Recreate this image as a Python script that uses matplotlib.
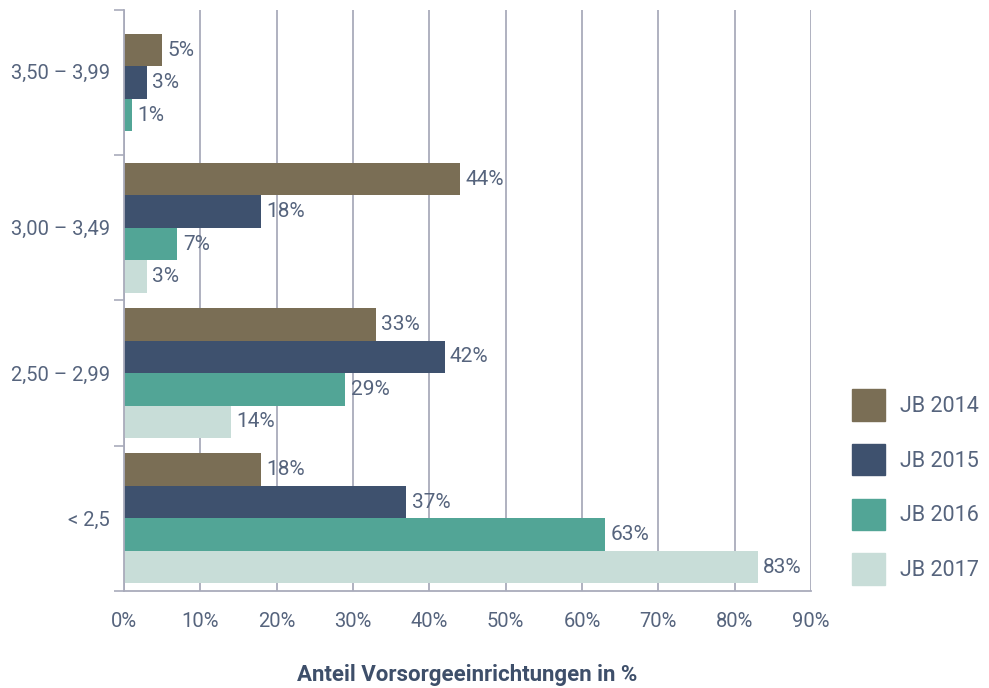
import matplotlib
matplotlib.use("Agg")

import matplotlib.pyplot as plt
import matplotlib.patches as mpatches
import numpy as np

# categories bottom -> top
categories = ["< 2,5", "2,50 – 2,99", "3,00 – 3,49", "3,50 – 3,99"]
series = ["JB 2014", "JB 2015", "JB 2016", "JB 2017"]

jb2014 = [18, 33, 44, 5]
jb2015 = [37, 42, 18, 3]
jb2016 = [63, 29, 7, 1]
jb2017 = [83, 14, 3, None]

values = [jb2014, jb2015, jb2016, jb2017]
colors = ["#7a6e55", "#3e516e", "#52a596", "#c8ddd8"]

text_color = "#56647d"
grid_color = "#a9abbb"

plt.rcParams["font.family"] = ["Roboto", "DejaVu Sans"]

fig = plt.figure(figsize=(9.89, 6.88), dpi=100)
ax = fig.add_axes([0.1254, 0.141, 0.6946, 0.8445])

bar_h = 0.2235

for ci, cat in enumerate(categories):
    present = [si for si in range(len(series)) if values[si][ci] is not None]
    n = len(present)
    for k, si in enumerate(present):
        y = ci + (n - 1) / 2 * bar_h - k * bar_h
        v = values[si][ci]
        ax.barh(y, v, height=bar_h, color=colors[si], zorder=3)
        ax.text(v + 0.7, y, f"{v}%", va="center", ha="left",
                fontsize=15, color=text_color, zorder=4)

ax.set_xlim(0, 90)
ax.set_ylim(-0.5, 3.5)

xt = np.arange(0, 100, 10)
ax.set_xticks(xt)
ax.set_xticklabels([f"{x}%" for x in xt])
ax.tick_params(axis="x", length=0, pad=15, labelsize=14.5, labelcolor=text_color)

# category labels (top one sits a bit higher, as in the source)
label_pos = [0, 1, 2, 3 + 0.075]
ax.set_yticks(label_pos)
ax.set_yticklabels(categories)
ax.tick_params(axis="y", which="major", length=0, pad=10, labelsize=14.5,
               labelcolor=text_color)
ax.set_yticks([-0.5, 0.5, 1.5, 2.5, 3.5], minor=True)
ax.tick_params(axis="y", which="minor", length=7, width=1.2, color=grid_color)

ax.grid(axis="x", color=grid_color, linewidth=1.3, zorder=0)
for s in ["top", "right"]:
    ax.spines[s].set_visible(False)
for s in ["left", "bottom"]:
    ax.spines[s].set_color(grid_color)
    ax.spines[s].set_linewidth(1.3)
    ax.spines[s].set_zorder(5)

ax.set_xlabel("Anteil Vorsorgeeinrichtungen in %", fontsize=16,
              fontweight="bold", color="#3e4f6a", labelpad=24)

handles = [mpatches.Patch(color=c, label=l) for c, l in zip(colors, series)]
leg = fig.legend(handles=handles, loc="upper left",
                 bbox_to_anchor=(852 / 989, 1 - 389 / 688),
                 frameon=False, fontsize=15.5, handlelength=1.53,
                 handleheight=1.89, labelspacing=1.07, handletextpad=0.7,
                 borderaxespad=0, borderpad=0)
for t in leg.get_texts():
    t.set_color(text_color)

fig.savefig("out.png", dpi=100)
plt.close(fig)
